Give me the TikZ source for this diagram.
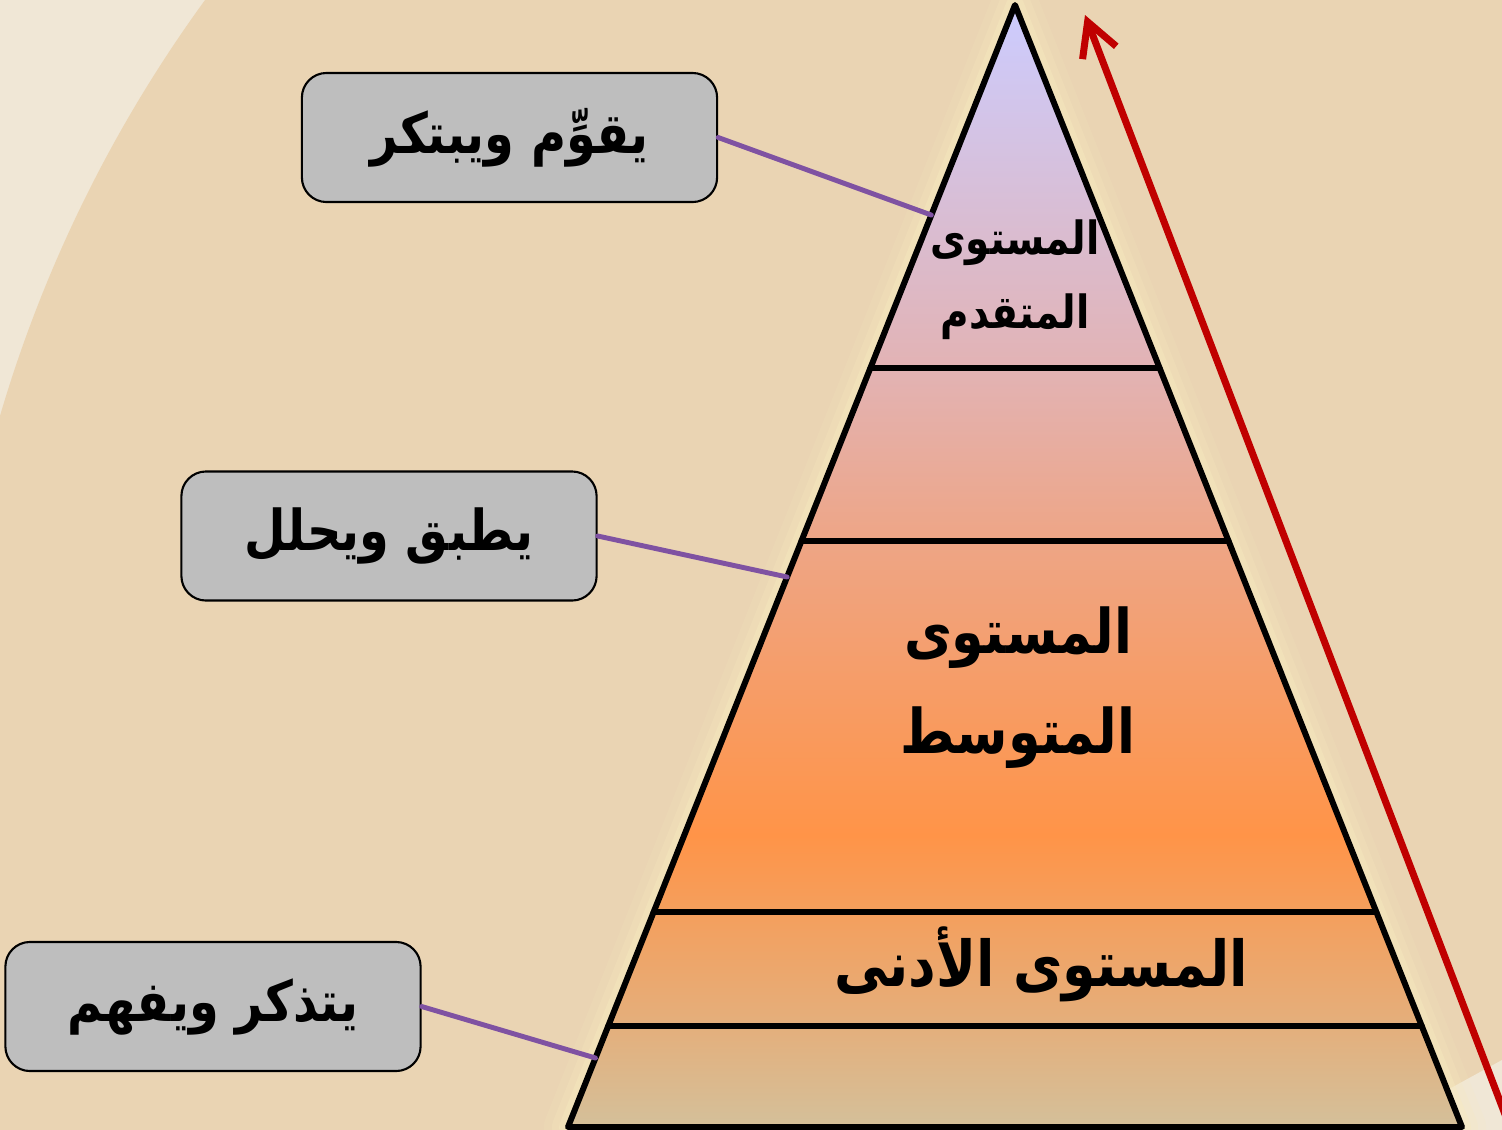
\documentclass[tikz,border=0pt]{standalone}
\usepackage{fontspec}
\newfontfamily\arabicfont[Script=Arabic, FakeStretch=0.85]{DejaVu Sans}
\TeXXeTstate=1
\usetikzlibrary{calc,arrows.meta}
\definecolor{pagebg}{HTML}{F0E7D6}
\definecolor{discbg}{HTML}{EAD4B3}
\definecolor{glow}{HTML}{F7EABF}
\definecolor{boxgray}{HTML}{BEBEBE}
\definecolor{linkpurple}{HTML}{7F52A2}
\definecolor{arrowred}{HTML}{C00000}
\definecolor{pyrtop}{HTML}{CCCCFF}
\definecolor{pyrpink}{HTML}{E2B3B5}
\definecolor{pyrmid}{HTML}{EEA585}
\definecolor{pyrorange}{HTML}{FF9448}
\definecolor{pyrlow}{HTML}{E4AF7C}
\definecolor{pyrbase}{HTML}{D4C09A}
\pgfdeclareverticalshading{pyramidshade}{100bp}{color(0bp)=(pyrbase); color(25bp)=(pyrbase); color(29.5bp)=(pyrlow); color(38bp)=(pyrorange); color(51bp)=(pyrmid); color(59bp)=(pyrpink); color(75bp)=(pyrtop); color(100bp)=(pyrtop)}
\begin{document}
\begin{tikzpicture}[x=0.01cm, y=-0.01cm, line join=round, line cap=round,
    level/.style={font=\arabicfont\bfseries\fontsize{17.5pt}{28.5pt}\selectfont, align=center},
    skill/.style={draw=black, line width=0.6pt, fill=boxgray, rounded corners=7pt,
      minimum width=4.15cm, minimum height=1.29cm,
      font=\arabicfont\bfseries\fontsize{16pt}{20pt}\selectfont},
    link/.style={draw=linkpurple, line width=1.4pt}]
    \def\W{1502} \def\H{1130}
    \useasboundingbox (0,0) rectangle (\W,\H);
    \clip (0,0) rectangle (\W,\H);
    \fill[pagebg] (0,0) rectangle (\W,\H);
    \fill[discbg] (1305,800) circle (1360);
    \fill[pagebg] (1440,1094) -- (1502,1060) -- (1502,1130) -- (1440,1130) -- cycle;
    % pyramid
    \coordinate (apex) at (1015,5);
    \coordinate (bl) at (568,1127);
    \coordinate (br) at (1462,1127);
    \foreach \w/\o in {48/0.15, 32/0.25, 18/0.4}
        \draw[glow, line width=\w*0.2845pt, opacity=\o] (apex) -- (bl) -- (br) -- cycle;
    \shadedraw[shading=pyramidshade, line width=1.7pt] (apex) -- (bl) -- (br) -- cycle;
    \foreach \t in {0.3235,0.4777,0.8084,0.9100}
        \draw[line width=1.7pt] ($(apex)!\t!(bl)$) -- ($(apex)!\t!(br)$);
    \node[level, font=\arabicfont\bfseries\fontsize{13pt}{21pt}\selectfont] (upper) at (1015,280) {\beginR المستوى\endR\\\beginR المتقدم\endR};
    \node[level] (middle) at (1018,688) {\beginR المستوى\endR\\\beginR المتوسط\endR};
    \node[level, font=\arabicfont\bfseries\fontsize{18pt}{22pt}\selectfont] (lower) at (1041,964) {\beginR المستوى الأدنى\endR};
    % skills
    \node[skill] (judge) at (509.5,137.5) {\beginR يقوِّم ويبتكر\endR};
    \node[skill] (apply) at (389,536) {\beginR يطبق ويحلل\endR};
    \node[skill] (recall) at (213,1006.5) {\beginR يتذكر ويفهم\endR};
    \coordinate (e1) at ($(apex)!0.1872!(bl)$);
    \coordinate (e2) at ($(apex)!0.5098!(bl)$);
    \coordinate (e3) at ($(apex)!0.9385!(bl)$);
    \draw[link] (judge.east) -- (e1);
    \draw[link] (apply.east) -- (e2);
    \draw[link] (recall.east) -- (e3);
    % arrow
    \coordinate (foot) at (1511,1130);
    \coordinate (tip) at (1085,15);
    \draw[arrowred, line width=2pt, -{Straight Barb[length=3.3mm,width=3.6mm]}] (foot) -- (tip);
\end{tikzpicture}
\end{document}
